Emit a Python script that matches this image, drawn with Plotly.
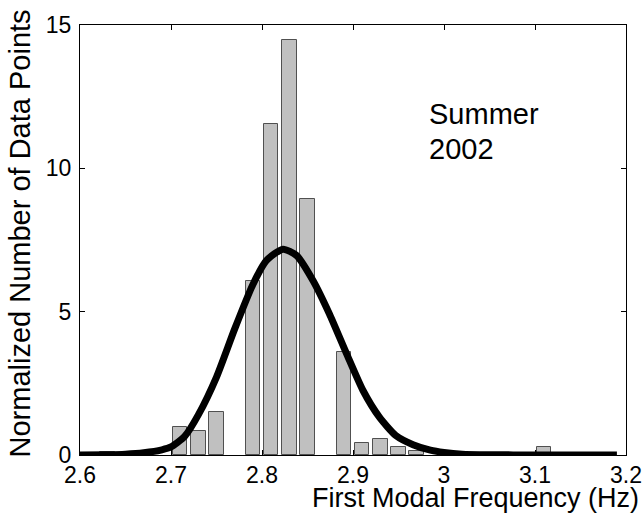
import plotly.graph_objects as go

# Histogram bins (bin centres, Hz) and normalized counts
bin_centers = [2.63, 2.71, 2.73, 2.75, 2.79, 2.81, 2.83, 2.85, 2.89, 2.91, 2.93, 2.95, 2.97, 3.05, 3.11]
bin_heights = [0.12, 0.97, 0.83, 1.51, 6.08, 11.56, 14.47, 8.94, 3.58, 0.41, 0.56, 0.28, 0.15, 0.05, 0.28]

# Fitted normal curve
curve_x = [2.60, 2.63, 2.65, 2.67, 2.69, 2.70, 2.715, 2.73, 2.75, 2.77, 2.79, 2.805, 2.823,
           2.838, 2.856, 2.874, 2.893, 2.911, 2.929, 2.947, 2.966, 2.985, 3.00, 3.02, 3.05, 3.10, 3.19]
curve_y = [0.00, 0.01, 0.03, 0.08, 0.18, 0.28, 0.65, 1.40, 2.72, 4.40, 5.95, 6.79, 7.18,
           6.96, 6.09, 4.93, 3.53, 2.25, 1.32, 0.68, 0.36, 0.17, 0.09, 0.03, 0.01, 0.0, 0.0]

x_ticks = [2.6, 2.7, 2.8, 2.9, 3.0, 3.1, 3.2]
x_tick_labels = ["2.6", "2.7", "2.8", "2.9", "3", "3.1", "3.2"]
y_ticks = [0, 5, 10, 15]
y_tick_labels = ["0", "5", "10", "15"]

FONT = "Liberation Sans, Arial, sans-serif"

fig = go.Figure()
fig.add_trace(go.Bar(
    x=bin_centers, y=bin_heights, width=0.016,
    marker=dict(color="#c0c0c0", line=dict(color="#505050", width=1)),
    showlegend=False, hoverinfo="skip",
))
fig.add_trace(go.Scatter(
    x=curve_x, y=curve_y, mode="lines",
    line=dict(color="black", width=7, shape="spline", smoothing=0.6),
    showlegend=False, hoverinfo="skip",
))

axis_common = dict(
    showline=True, linecolor="black", linewidth=1, mirror="ticks",
    ticks="inside", ticklen=5, tickcolor="black", tickwidth=1,
    showgrid=False, zeroline=False, automargin=False,
    tickfont=dict(family=FONT, size=23, color="black"),
)
fig.update_xaxes(range=[2.6, 3.2], tickvals=x_ticks, ticktext=x_tick_labels,
                 ticklabelstandoff=-1, **axis_common)
fig.update_yaxes(range=[0, 15], tickvals=y_ticks, ticktext=y_tick_labels, ticklabelstandoff=3, **axis_common)

fig.update_layout(
    width=644, height=516,
    margin=dict(l=80, r=18, t=25, b=61, autoexpand=False),
    paper_bgcolor="white", plot_bgcolor="white",
    bargap=0,
    annotations=[
        dict(text="First Modal Frequency (Hz)", xref="paper", yref="paper",
             x=1.0275, y=-0.1395, xanchor="right", yanchor="bottom", showarrow=False,
             font=dict(family=FONT, size=27, color="black")),
        dict(text="Normalized Number of Data Points", xref="paper", yref="paper",
             x=-0.11, y=0.515, xanchor="center", yanchor="middle", textangle=-90,
             showarrow=False, font=dict(family=FONT, size=29, color="black")),
        dict(text="Summer", xref="x", yref="y", x=2.981, y=11.91,
             xanchor="left", yanchor="middle", showarrow=False,
             font=dict(family=FONT, size=29, color="black")),
        dict(text="2002", xref="x", yref="y", x=2.981, y=10.67,
             xanchor="left", yanchor="middle", showarrow=False,
             font=dict(family=FONT, size=29, color="black")),
    ],
)

fig.write_html("out.html")
